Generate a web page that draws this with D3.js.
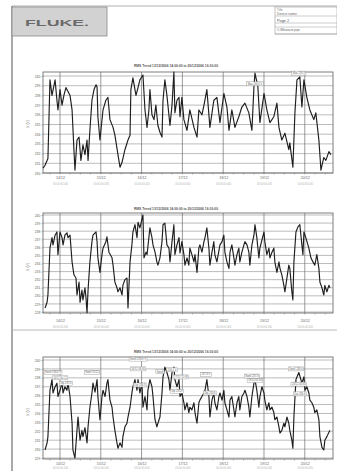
<!DOCTYPE html>
<html>
<head>
<meta charset="utf-8">
<script src="https://cdn.jsdelivr.net/npm/d3@7"></script>
<style>
  html, body { margin: 0; padding: 0; background: #fff; }
  svg { display: block; font-family: "Liberation Sans", Arial, sans-serif; }
</style>
</head>
<body>
<svg id="page" width="337" height="471"></svg>
<script>
// ---- data (hours since start of recording, volts) ----
const startTime = new Date(2006, 11, 13, 14, 0, 0);
const spanHours = 170.6;
const dayLabels = ['14/12', '15/12', '16/12', '17/12', '18/12', '19/12', '20/12'];

const l1Ticks = [230, 231, 232, 233, 234, 235, 236, 237, 238, 239, 240];
const l2Ticks = [228, 229, 230, 231, 232, 233, 234, 235, 236, 237, 238, 239, 240];
const l3Ticks = [229, 230, 231, 232, 233, 234, 235, 236, 237, 238, 239, 240];

const l1Trend = [[0,230.5],[1.2,230.8],[2.9,231.5],[4.1,239.6],[5.3,238.0],[7.1,239.6],[8.2,237.5],[8.8,236.5],[10.0,238.6],[11.2,237.0],[12.3,238.0],[13.5,238.8],[14.7,238.4],[15.9,238.0],[17.1,236.5],[18.2,232.4],[18.8,230.3],[20.0,233.4],[21.2,233.7],[22.3,231.3],[23.5,232.9],[24.7,231.9],[25.9,233.4],[26.5,231.3],[27.6,234.4],[28.8,237.5],[30.0,238.6],[31.2,239.1],[31.8,238.9],[32.3,235.8],[33.5,233.4],[35.3,236.5],[37.0,237.5],[38.2,237.8],[39.4,235.5],[41.2,234.7],[42.3,233.9],[44.1,231.9],[45.3,230.6],[46.5,231.1],[48.2,232.4],[50.0,233.4],[51.2,233.9],[51.7,238.6],[52.9,239.8],[54.7,238.0],[55.9,238.8],[57.0,239.6],[58.8,240.1],[60.0,236.5],[61.2,234.7],[62.3,236.5],[62.9,238.6],[64.1,236.0],[65.3,235.5],[66.4,237.0],[67.6,234.9],[68.8,234.2],[70.0,233.7],[70.6,237.5],[71.7,239.6],[72.9,238.0],[74.7,234.9],[75.9,237.0],[77.0,240.4],[77.6,236.2],[78.8,237.5],[80.0,237.8],[80.6,235.8],[81.7,237.8],[82.9,235.5],[84.7,234.4],[86.4,236.5],[88.8,234.7],[90.6,233.7],[91.7,236.5],[93.5,236.0],[94.7,237.0],[96.4,238.6],[98.2,234.7],[100.5,237.5],[102.3,237.8],[104.1,235.2],[106.4,238.2],[108.2,236.8],[109.4,234.4],[111.1,236.5],[112.9,234.7],[115.2,235.8],[117.0,236.8],[118.8,237.2],[121.1,236.2],[122.9,234.4],[124.1,238.9],[124.7,240.3],[126.4,238.9],[127.6,235.2],[130.0,238.2],[131.7,236.5],[133.5,235.2],[135.8,235.8],[137.6,237.2],[138.8,234.7],[140.5,233.4],[142.3,234.1],[144.6,232.4],[145.2,233.1],[147.0,230.6],[148.2,236.2],[149.4,239.6],[151.1,239.9],[152.3,236.8],[153.5,239.6],[155.2,237.8],[157.0,236.5],[159.3,235.5],[160.5,236.2],[162.3,233.4],[163.5,230.3],[165.2,231.6],[166.4,231.3],[168.2,232.2],[169.3,231.9]];

const l2Trend = [[1.2,228.5],[2.4,229.2],[2.9,230.1],[4.1,235.9],[5.3,237.2],[5.9,236.3],[7.1,237.5],[8.2,237.9],[8.8,235.1],[10.0,237.9],[11.2,237.2],[11.8,236.3],[12.9,237.5],[14.1,237.8],[14.7,237.2],[15.9,237.5],[17.1,234.2],[18.2,232.6],[19.4,232.2],[20.0,230.1],[21.2,231.7],[21.8,229.2],[22.9,230.7],[23.5,229.5],[24.7,231.0],[25.3,229.7],[25.9,227.9],[26.5,230.7],[27.6,234.2],[28.8,236.7],[29.4,237.5],[31.2,237.9],[31.8,236.7],[32.3,234.7],[33.5,232.9],[34.7,235.1],[35.3,235.9],[37.0,236.7],[37.6,237.3],[38.8,235.4],[40.6,234.7],[41.2,233.8],[42.3,231.7],[43.5,231.0],[44.1,230.5],[45.3,231.0],[46.5,230.1],[47.0,231.3],[48.2,232.0],[49.4,232.2],[50.0,228.5],[51.2,234.2],[52.3,236.3],[52.9,237.9],[54.1,238.8],[55.3,237.2],[55.9,239.1],[57.0,238.4],[58.8,240.0],[59.4,234.7],[60.6,235.4],[61.2,235.1],[62.9,238.4],[64.1,237.2],[64.7,236.3],[65.9,235.4],[67.0,234.2],[67.6,233.8],[68.8,234.7],[70.0,236.7],[70.6,238.8],[71.7,239.0],[72.9,236.3],[74.1,235.9],[74.7,234.2],[75.9,236.7],[77.0,238.8],[77.6,235.1],[78.8,236.3],[80.0,237.2],[80.6,235.3],[81.7,236.7],[82.9,235.1],[83.5,233.8],[84.7,234.7],[85.8,233.8],[86.4,235.9],[87.6,235.1],[88.8,234.2],[89.4,235.1],[90.6,232.9],[91.7,235.9],[92.3,236.3],[93.5,235.4],[94.7,236.7],[95.3,237.2],[96.4,238.4],[97.6,235.9],[98.2,233.8],[99.4,235.4],[100.5,236.7],[101.1,235.1],[102.3,234.2],[104.1,236.3],[105.3,236.7],[106.4,237.5],[107.0,235.4],[108.2,234.2],[109.4,233.4],[110.0,235.4],[111.1,236.3],[112.3,234.7],[112.9,233.8],[114.1,235.1],[115.2,235.9],[115.8,234.2],[117.0,235.4],[118.2,236.3],[118.8,236.7],[120.0,236.3],[121.1,235.4],[121.7,233.8],[122.9,236.3],[124.1,237.5],[124.7,238.8],[125.8,237.2],[127.0,234.7],[127.6,235.9],[130.0,237.9],[130.5,236.7],[131.7,235.1],[132.9,235.9],[133.5,234.7],[134.7,235.4],[135.8,235.9],[136.4,234.2],[137.6,232.9],[138.8,234.2],[139.4,233.4],[140.5,232.6],[141.7,231.3],[142.3,230.5],[143.5,232.2],[144.6,233.8],[145.2,233.4],[146.4,230.5],[147.0,229.5],[147.6,234.2],[148.8,237.9],[149.9,238.5],[151.1,238.8],[152.3,236.3],[152.9,235.1],[153.5,237.9],[154.6,237.2],[156.4,235.9],[157.6,234.7],[158.8,234.2],[159.9,233.8],[161.1,235.1],[162.3,233.4],[162.9,231.7],[164.1,231.0],[165.2,230.1],[165.8,231.3],[167.0,230.5],[168.2,231.3],[168.8,231.0]];

const l3Trend = [[1.2,229.9],[2.4,230.7],[2.9,231.4],[4.1,236.6],[5.3,237.8],[5.9,236.3],[7.1,237.0],[8.2,237.4],[8.8,235.9],[10.0,236.6],[11.2,237.4],[11.8,236.3],[12.9,237.0],[14.1,236.6],[14.7,237.4],[15.9,235.9],[17.1,232.9],[17.6,229.9],[18.8,229.0],[20.0,232.1],[20.6,233.6],[21.8,231.0],[22.9,232.1],[23.5,231.4],[24.7,232.4],[25.9,230.7],[26.5,232.5],[27.6,234.7],[28.8,236.3],[29.4,237.4],[30.6,236.4],[31.8,237.8],[32.3,235.9],[33.5,233.3],[34.7,235.9],[35.3,236.6],[36.5,235.9],[37.6,237.4],[38.2,237.8],[39.4,235.5],[40.6,234.7],[41.2,233.6],[42.3,232.1],[43.5,230.7],[44.1,230.1],[45.3,230.7],[46.5,230.2],[47.0,231.4],[48.2,232.5],[49.4,232.9],[50.0,233.6],[51.2,234.7],[52.3,236.3],[52.9,237.0],[54.1,237.8],[55.3,236.6],[55.9,237.8],[57.0,236.3],[58.2,237.4],[58.8,234.7],[60.0,235.9],[61.2,234.4],[61.7,236.6],[62.9,237.8],[64.1,237.0],[64.7,235.9],[65.9,233.3],[67.0,232.5],[67.6,232.9],[68.8,233.6],[70.0,236.3],[70.6,238.1],[71.7,239.2],[72.9,238.6],[74.1,237.8],[74.7,236.6],[75.9,238.6],[77.0,239.2],[77.6,237.8],[78.8,237.0],[80.0,237.8],[80.6,235.9],[81.7,236.3],[82.9,235.2],[83.5,234.4],[84.7,235.2],[85.8,234.1],[86.4,234.7],[87.6,234.4],[88.8,235.2],[89.4,234.1],[90.6,232.9],[91.7,235.2],[92.3,235.5],[93.5,235.9],[94.7,236.3],[95.3,236.6],[96.4,237.8],[97.6,235.9],[98.2,233.6],[99.4,235.5],[100.5,236.3],[101.1,235.2],[102.3,234.4],[103.5,235.9],[104.1,236.3],[105.3,235.5],[106.4,236.6],[107.0,235.2],[108.2,234.4],[109.4,233.6],[110.0,235.5],[111.1,235.9],[112.3,234.4],[112.9,233.6],[114.1,235.2],[115.2,235.9],[115.8,234.4],[117.0,235.9],[118.2,236.3],[118.8,236.6],[120.0,235.9],[121.1,234.7],[121.7,233.6],[122.9,235.9],[124.1,237.4],[124.7,237.8],[125.8,236.6],[127.0,234.7],[127.6,235.9],[128.8,237.0],[130.0,236.3],[130.5,235.5],[131.7,234.4],[132.9,235.2],[133.5,234.4],[134.7,234.7],[135.8,234.1],[136.4,233.3],[137.6,233.6],[138.8,232.5],[139.4,231.8],[140.5,232.1],[141.7,232.9],[142.3,232.5],[143.5,233.6],[144.6,232.9],[145.2,232.1],[146.4,231.0],[147.0,230.1],[147.6,233.6],[148.8,237.8],[149.4,238.1],[150.5,238.6],[152.3,237.4],[153.5,238.1],[154.1,236.6],[155.2,237.0],[156.4,236.3],[157.0,235.5],[158.2,235.2],[159.3,234.7],[159.9,234.1],[161.1,234.4],[162.3,233.3],[162.9,231.4],[164.1,230.2],[165.2,229.9],[165.8,231.0],[167.0,231.4],[168.2,231.9],[168.8,232.1]];

// event markers: [hours, volts, label]
const l1Events = [[124.7, 239.2, 'Max 240.3 V'], [150.5, 240.3, 'Max 239.9']];
const l3Events = [[5.9, 238.6, 'Swell 238.6 V'], [10.0, 238.0, '14/12 00:12'], [13.5, 237.4, 'Dip 237.0'],
  [28.8, 238.6, 'Swell 15/12'], [55.9, 240.1, 'Swell 239.8 V'], [55.9, 239.0, '16/12 08:40'],
  [57.0, 237.2, 'Dip 236.3'], [68.8, 238.7, 'Swell'], [75.9, 238.9, '239.2 V'],
  [81.1, 238.1, '17/12 11:08'], [78.8, 236.5, 'Dip 235.9'], [95.8, 238.4, '237.8 V'],
  [98.2, 236.3, 'Dip 233.6'], [122.9, 238.2, 'Swell 237.8'], [124.7, 237.7, '19/12 02:40'],
  [148.8, 239.0, 'Swell 238.6'], [150.5, 237.3, '20/12 00:30'], [151.1, 236.2, 'Dip 236.6']];

const traceTitle = 'RMS Trend 13/12/2006 14:00:00 to 20/12/2006 16:30:00';

// ---- layout ----
const plotLeft = 43, plotRight = 333;
const charts = [
  { trend: l1Trend, ticks: l1Ticks, events: l1Events, frameTop: 72, frameBottom: 173, tickTop: 76, tickBottom: 173, titleY: 67, labelY: 124, xLabelY: 178, subGap: 6.5 },
  { trend: l2Trend, ticks: l2Ticks, events: [], frameTop: 213, frameBottom: 313, tickTop: 215, tickBottom: 312, titleY: 210, labelY: 267, xLabelY: 321, subGap: 6 },
  { trend: l3Trend, ticks: l3Ticks, events: l3Events, frameTop: 357, frameBottom: 459, tickTop: 360, tickBottom: 458, titleY: 353, labelY: 412, xLabelY: 464, subGap: 4.2 }
];

const svg = d3.select('#page');
const endTime = new Date(startTime.getTime() + spanHours * 3600e3);
const toDate = h => new Date(startTime.getTime() + h * 3600e3);

// page frame & header
svg.append('line').attr('x1', 12).attr('x2', 337).attr('y1', 6).attr('y2', 6)
  .attr('stroke', '#9a9a9a').attr('stroke-width', 0.8);
svg.append('line').attr('x1', 12).attr('x2', 12).attr('y1', 6).attr('y2', 471)
  .attr('stroke', '#555').attr('stroke-width', 1);
svg.append('rect').attr('x', 12).attr('y', 7).attr('width', 95).attr('height', 29)
  .attr('fill', '#d2d2d2').attr('stroke', '#8a8a8a').attr('stroke-width', 0.8);
svg.append('text').attr('x', 25).attr('y', 25.5).attr('font-size', 9).attr('font-weight', 'bold')
  .attr('fill', '#6a6a6a').attr('textLength', 64).attr('lengthAdjust', 'spacingAndGlyphs')
  .text('FLUKE.');

const info = svg.append('g');
info.append('rect').attr('x', 275).attr('y', 7).attr('width', 62).attr('height', 27)
  .attr('fill', 'none').attr('stroke', '#9a9a9a').attr('stroke-width', 0.6);
[16, 23, 27, 34].forEach(yy => info.append('line').attr('x1', 275).attr('x2', 337)
  .attr('y1', yy).attr('y2', yy).attr('stroke', '#9a9a9a').attr('stroke-width', 0.5));
info.append('text').attr('x', 277).attr('y', 10.5).attr('font-size', 3).attr('fill', '#777').text('Title');
info.append('text').attr('x', 277).attr('y', 15).attr('font-size', 3.4).attr('fill', '#666').text('Device name');
info.append('text').attr('x', 277).attr('y', 22).attr('font-size', 3.8).attr('fill', '#555').text('Page 2');
info.append('text').attr('x', 277).attr('y', 31).attr('font-size', 3.2).attr('fill', '#666').text('C:\\Measure.pqn');

svg.append('line').attr('x1', 12).attr('x2', 337).attr('y1', 330).attr('y2', 330)
  .attr('stroke', '#a8a8a8').attr('stroke-width', 0.8);

// ---- charts ----
charts.forEach(cfg => {
  const g = svg.append('g');
  const x = d3.scaleTime().domain([startTime, endTime]).range([plotLeft, plotRight]);
  const y = d3.scaleLinear()
    .domain([cfg.ticks[0], cfg.ticks[cfg.ticks.length - 1]])
    .range([cfg.tickBottom, cfg.tickTop]);
  const days = d3.timeDay.range(d3.timeDay.ceil(startTime), endTime);

  g.append('rect').attr('x', plotLeft).attr('y', cfg.frameTop)
    .attr('width', plotRight - plotLeft).attr('height', cfg.frameBottom - cfg.frameTop)
    .attr('fill', '#fff');

  // horizontal grid
  g.append('g').selectAll('line').data(cfg.ticks).join('line')
    .attr('x1', plotLeft).attr('x2', plotRight)
    .attr('y1', d => y(d)).attr('y2', d => y(d))
    .attr('stroke', '#8f8f8f').attr('stroke-width', 0.6);

  // vertical day lines
  g.append('g').selectAll('line').data(days).join('line')
    .attr('x1', d => x(d)).attr('x2', d => x(d))
    .attr('y1', cfg.frameTop).attr('y2', cfg.frameBottom)
    .attr('stroke', '#6f6f6f').attr('stroke-width', 0.7);

  // minor ticks below the axis
  g.append('g').selectAll('line').data(d3.timeHour.every(6).range(startTime, endTime)).join('line')
    .attr('x1', d => x(d)).attr('x2', d => x(d))
    .attr('y1', cfg.frameBottom).attr('y2', cfg.frameBottom + 1.6)
    .attr('stroke', '#8a8a8a').attr('stroke-width', 0.5);

  g.append('rect').attr('x', plotLeft).attr('y', cfg.frameTop)
    .attr('width', plotRight - plotLeft).attr('height', cfg.frameBottom - cfg.frameTop)
    .attr('fill', 'none').attr('stroke', '#5e5e5e').attr('stroke-width', 0.8);

  // y axis labels
  const yAxis = g.append('g').attr('transform', `translate(${plotLeft},0)`)
    .call(d3.axisLeft(y).tickValues(cfg.ticks).tickSize(1.5).tickPadding(1.2).tickFormat(d => d));
  yAxis.select('.domain').remove();
  yAxis.selectAll('line').attr('stroke', '#777').attr('stroke-width', 0.5);
  yAxis.selectAll('text').attr('font-size', 3.4).attr('fill', '#666').attr('font-family', null);

  // x axis labels
  const xAxis = g.append('g').attr('transform', `translate(0,${cfg.xLabelY})`)
    .call(d3.axisBottom(x).tickValues(days).tickSize(0).tickPadding(0)
      .tickFormat((d, i) => dayLabels[i]));
  xAxis.select('.domain').remove();
  xAxis.selectAll('text').attr('dy', '0.35em').attr('font-size', 3.6).attr('fill', '#666').attr('font-family', null);
  xAxis.selectAll('.tick').append('text').attr('y', cfg.subGap).attr('dy', '0.35em')
    .attr('text-anchor', 'middle').attr('font-size', 2.6).attr('fill', '#b5b5b5')
    .text('00:00:00.000');

  // title and axis label
  g.append('text').attr('x', 176).attr('y', cfg.titleY).attr('text-anchor', 'middle')
    .attr('font-size', 3.4).attr('font-weight', 'bold').attr('fill', '#555')
    .attr('textLength', 84).attr('lengthAdjust', 'spacingAndGlyphs')
    .text(traceTitle);
  g.append('text').attr('transform', `translate(29,${cfg.labelY}) rotate(-90)`)
    .attr('text-anchor', 'middle').attr('font-size', 3.6).attr('fill', '#777')
    .text('U (V)');

  // trend line
  const line = d3.line().x(d => x(toDate(d[0]))).y(d => y(d[1]));
  g.append('path').datum(cfg.trend).attr('d', line)
    .attr('fill', 'none').attr('stroke', '#1e1e1e').attr('stroke-width', 1.15)
    .attr('stroke-linejoin', 'round');

  // event markers
  const ev = g.append('g').selectAll('g').data(cfg.events).join('g')
    .attr('transform', d => `translate(${x(toDate(d[0]))},${y(d[1])})`);
  ev.append('rect').attr('fill', '#fff').attr('stroke', '#8c8c8c').attr('stroke-width', 0.4);
  ev.append('text').attr('text-anchor', 'middle').attr('dy', '0.35em')
    .attr('font-size', 2.6).attr('fill', '#666').text(d => d[2]);
  ev.each(function () {
    const t = d3.select(this).select('text').node();
    const w = t.getComputedTextLength() + 2;
    d3.select(this).select('rect').attr('x', -w / 2).attr('y', -2).attr('width', w).attr('height', 4);
  });
});
</script>
</body>
</html>
